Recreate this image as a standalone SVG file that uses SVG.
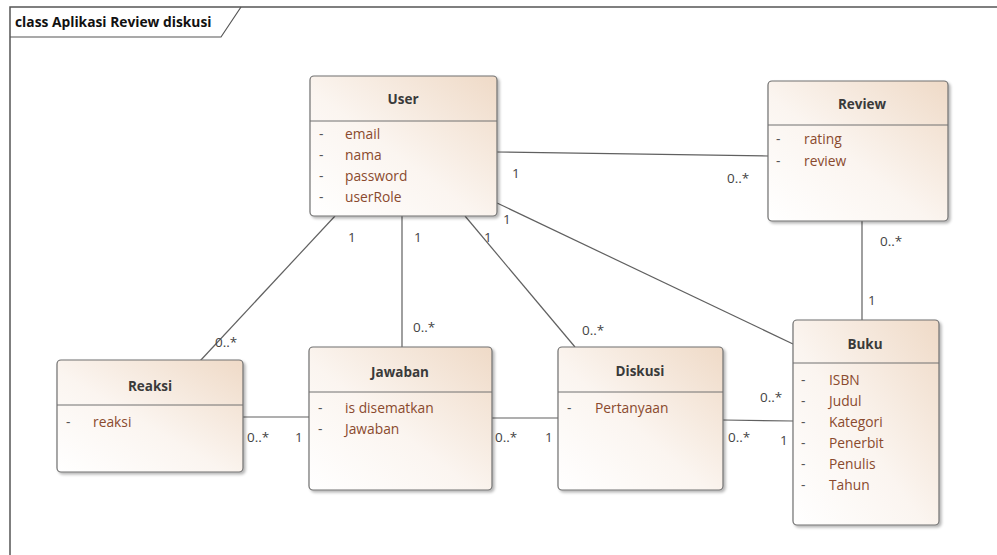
<svg xmlns="http://www.w3.org/2000/svg" width="997" height="555" viewBox="0 0 997 555">
<defs>
<linearGradient id="g" x1="0" y1="1" x2="1" y2="0">
<stop offset="0" stop-color="#ffffff"/>
<stop offset="0.45" stop-color="#fbf5f0"/>
<stop offset="1" stop-color="#efdac7"/>
</linearGradient>
<filter id="sh" x="-5%" y="-5%" width="115%" height="115%">
<feGaussianBlur in="SourceAlpha" stdDeviation="1.5"/>
<feOffset dx="2" dy="2"/>
<feComponentTransfer><feFuncA type="linear" slope="0.3"/></feComponentTransfer>
<feMerge><feMergeNode/><feMergeNode in="SourceGraphic"/></feMerge>
</filter>
</defs>
<style>
.box{fill:url(#g);stroke:#707070;stroke-width:1.2;filter:url(#sh)}
.sep{stroke:#707070;stroke-width:1}
.title{font-family:"Open Sans","Noto Sans",sans-serif;font-size:13.5px;font-weight:bold;fill:#3a3a3a;text-anchor:middle}
.attr{font-family:"Open Sans","Noto Sans",sans-serif;font-size:13.8px;fill:#8a4a2e}
.dash{font-family:"Open Sans","Noto Sans",sans-serif;font-size:13.8px;fill:#555}
.lbl{font-family:"Open Sans","Noto Sans",sans-serif;font-size:13.5px;fill:#444}
.con{stroke:#606060;stroke-width:1.2;fill:none}
.frame{stroke:#555;stroke-width:1.5;fill:none}
.ftitle{font-family:"Open Sans","Noto Sans",sans-serif;font-size:13.8px;font-weight:bold;fill:#111}
</style>
<rect width="997" height="555" fill="#ffffff"/>
<g id="frame">
<path class="frame" d="M997,7 H10 V555"/>
<path d="M10,37 H221 L241,7" stroke="#555" stroke-width="1.2" fill="none"/>
<text class="ftitle" x="15" y="27">class Aplikasi Review diskusi</text>
</g>
<g id="connectors">
<line class="con" x1="497" y1="152" x2="768" y2="156"/>
<line class="con" x1="497" y1="203" x2="793" y2="344"/>
<line class="con" x1="465" y1="216" x2="575" y2="347"/>
<line class="con" x1="402" y1="216" x2="402" y2="347"/>
<line class="con" x1="335" y1="216" x2="200" y2="361"/>
<line class="con" x1="243" y1="417" x2="309" y2="417"/>
<line class="con" x1="492" y1="418" x2="558" y2="418"/>
<line class="con" x1="723" y1="420" x2="793" y2="421"/>
<line class="con" x1="862" y1="221" x2="862" y2="320"/>
<text class="lbl" x="512" y="178">1</text>
<text class="lbl" x="727" y="183">0..*</text>
<text class="lbl" x="503" y="224">1</text>
<text class="lbl" x="760" y="402">0..*</text>
<text class="lbl" x="484" y="242">1</text>
<text class="lbl" x="582" y="335">0..*</text>
<text class="lbl" x="414" y="242">1</text>
<text class="lbl" x="413" y="332">0..*</text>
<text class="lbl" x="348" y="242">1</text>
<text class="lbl" x="215" y="347">0..*</text>
<text class="lbl" x="247" y="442">0..*</text>
<text class="lbl" x="295" y="442">1</text>
<text class="lbl" x="495" y="442">0..*</text>
<text class="lbl" x="545" y="442">1</text>
<text class="lbl" x="728" y="442">0..*</text>
<text class="lbl" x="780" y="445">1</text>
<text class="lbl" x="880" y="246">0..*</text>
<text class="lbl" x="868" y="305">1</text>
</g>
<g id="User">
<rect class="box" x="310" y="76" width="187" height="140" rx="4"/>
<line class="sep" x1="310" y1="121" x2="497" y2="121"/>
<text class="title" x="403" y="104">User</text>
<text class="dash" x="319" y="139">-</text><text class="attr" x="345" y="139">email</text>
<text class="dash" x="319" y="160">-</text><text class="attr" x="345" y="160">nama</text>
<text class="dash" x="319" y="181">-</text><text class="attr" x="345" y="181">password</text>
<text class="dash" x="319" y="202">-</text><text class="attr" x="345" y="202">userRole</text>
</g>
<g id="Review">
<rect class="box" x="768" y="81" width="180" height="140" rx="4"/>
<line class="sep" x1="768" y1="125" x2="948" y2="125"/>
<text class="title" x="862" y="109">Review</text>
<text class="dash" x="776" y="144">-</text><text class="attr" x="804" y="144">rating</text>
<text class="dash" x="776" y="166">-</text><text class="attr" x="804" y="166">review</text>
</g>
<g id="Reaksi">
<rect class="box" x="57" y="360" width="186" height="112" rx="4"/>
<line class="sep" x1="57" y1="405" x2="243" y2="405"/>
<text class="title" x="150" y="391">Reaksi</text>
<text class="dash" x="66" y="427">-</text><text class="attr" x="93" y="427">reaksi</text>
</g>
<g id="Jawaban">
<rect class="box" x="309" y="347" width="183" height="143" rx="4"/>
<line class="sep" x1="309" y1="392" x2="492" y2="392"/>
<text class="title" x="400" y="377">Jawaban</text>
<text class="dash" x="318" y="413">-</text><text class="attr" x="345" y="413">is disematkan</text>
<text class="dash" x="318" y="434">-</text><text class="attr" x="345" y="434">Jawaban</text>
</g>
<g id="Diskusi">
<rect class="box" x="558" y="347" width="165" height="143" rx="4"/>
<line class="sep" x1="558" y1="392" x2="723" y2="392"/>
<text class="title" x="640" y="376">Diskusi</text>
<text class="dash" x="567" y="413">-</text><text class="attr" x="595" y="413">Pertanyaan</text>
</g>
<g id="Buku">
<rect class="box" x="793" y="320" width="146" height="205" rx="4"/>
<line class="sep" x1="793" y1="363" x2="939" y2="363"/>
<text class="title" x="865" y="349">Buku</text>
<text class="dash" x="801" y="385">-</text><text class="attr" x="829" y="385">ISBN</text>
<text class="dash" x="801" y="406">-</text><text class="attr" x="829" y="406">Judul</text>
<text class="dash" x="801" y="427">-</text><text class="attr" x="829" y="427">Kategori</text>
<text class="dash" x="801" y="448">-</text><text class="attr" x="829" y="448">Penerbit</text>
<text class="dash" x="801" y="469">-</text><text class="attr" x="829" y="469">Penulis</text>
<text class="dash" x="801" y="490">-</text><text class="attr" x="829" y="490">Tahun</text>
</g>
</svg>
